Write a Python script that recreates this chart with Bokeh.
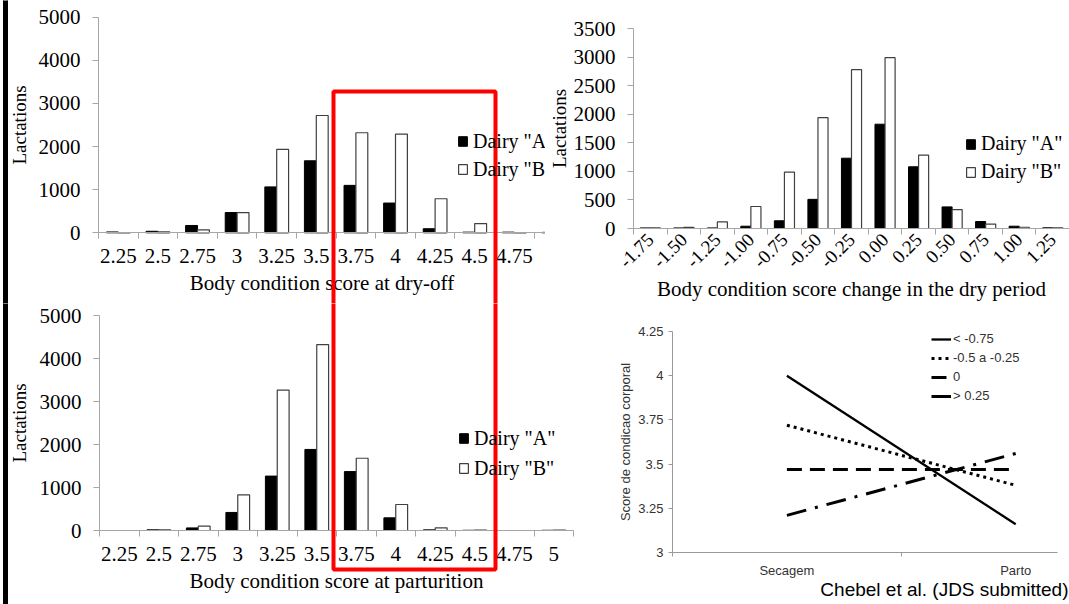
import math
from bokeh.plotting import figure
from bokeh.models import (Range1d, FixedTicker, Legend, LegendItem, BoxAnnotation,
                          Title, NumeralTickFormatter)
from bokeh.layouts import column, row
from bokeh.embed import file_html
from bokeh.resources import INLINE

# ---------------- data ----------------
bcs_cats = ["2.25", "2.5", "2.75", "3", "3.25", "3.5", "3.75", "4", "4.25", "4.5", "4.75", "5"]
dryoff_A = [20, 35, 170, 470, 1065, 1670, 1100, 690, 95, 15, 15, 10]
dryoff_B = [5, 20, 70, 470, 1935, 2720, 2320, 2290, 790, 215, 5, 5]

change_cats = ["-1.75", "-1.50", "-1.25", "-1.00", "-0.75", "-0.50", "-0.25",
               "0.00", "0.25", "0.50", "0.75", "1.00", "1.25"]
change_A = [10, 10, 10, 40, 135, 510, 1230, 1825, 1080, 378, 122, 40, 12]
change_B = [10, 20, 115, 385, 985, 1940, 2780, 2990, 1285, 332, 76, 22, 12]

partu_A = [0, 15, 60, 420, 1265, 1885, 1370, 295, 15, 5, 0, 5]
partu_B = [0, 15, 100, 830, 3265, 4325, 1680, 605, 62, 10, 0, 12]

periods = ["Secagem", "Parto"]
groups = ["< -0.75", "-0.5 a -0.25", "0", "> 0.25"]
bcs_lt_m075 = [4.00, 3.16]
bcs_m05_m025 = [3.72, 3.38]
bcs_zero = [3.47, 3.47]
bcs_gt_025 = [3.21, 3.56]

SERIF = "Liberation Serif"
SANS = "Liberation Sans"
GRAY = "#a6a6a6"


def style_axes(p, cats, centers, ymax, ystep, xlabel, rotate, tick_size,
               ylabel_standoff, xlabel_standoff, xtick_standoff):
    xa_ = p.xaxis[0]
    xa_.ticker = FixedTicker(ticks=centers, minor_ticks=list(range(len(cats) + 1)))
    xa_.major_label_overrides = {c: lab for c, lab in zip(centers, cats)}
    xa_.major_tick_out = 0
    xa_.major_tick_in = 0
    xa_.minor_tick_out = 6
    xa_.minor_tick_in = 0
    xa_.minor_tick_line_color = GRAY
    xa_.axis_line_color = GRAY
    xa_.major_label_text_font = SERIF
    xa_.major_label_text_font_size = tick_size
    xa_.major_label_text_color = "black"
    xa_.major_label_standoff = xtick_standoff
    if rotate:
        xa_.major_label_orientation = math.pi / 4
    xa_.axis_label = xlabel
    xa_.axis_label_text_font = SERIF
    xa_.axis_label_text_font_size = "21px"
    xa_.axis_label_text_font_style = "normal"
    xa_.axis_label_text_color = "black"
    xa_.axis_label_standoff = xlabel_standoff

    ya = p.yaxis[0]
    ya.ticker = FixedTicker(ticks=list(range(0, ymax + 1, ystep)))
    ya.major_tick_out = 6
    ya.major_tick_in = 0
    ya.major_tick_line_color = GRAY
    ya.minor_tick_line_color = None
    ya.axis_line_color = GRAY
    ya.major_label_text_font = SERIF
    ya.major_label_text_font_size = "21px"
    ya.major_label_text_color = "black"
    ya.major_label_standoff = 12
    ya.axis_label = "Lactations"
    ya.axis_label_text_font = SERIF
    ya.axis_label_text_font_size = "19px"
    ya.axis_label_text_font_style = "normal"
    ya.axis_label_text_color = "black"
    ya.axis_label_standoff = ylabel_standoff


def add_bars_and_legend(p, centers, a_vals, b_vals, legend_xy, legend_spacing):
    xa = [c - 0.15 for c in centers]
    xb = [c + 0.15 for c in centers]
    ra = p.vbar(x=xa, top=a_vals, width=0.3, fill_color="black", line_color="black", line_width=1)
    rb = p.vbar(x=xb, top=b_vals, width=0.3, fill_color="white", line_color="#404040", line_width=1.2)
    leg = Legend(items=[LegendItem(label='Dairy "A"', renderers=[ra]),
                        LegendItem(label='Dairy "B"', renderers=[rb])],
                 location=legend_xy)
    leg.border_line_color = None
    leg.background_fill_alpha = 0
    leg.padding = 0
    leg.margin = 0
    leg.spacing = legend_spacing
    leg.glyph_width = 11
    leg.glyph_height = 12
    leg.label_standoff = 5
    leg.label_text_font = SERIF
    leg.label_text_font_size = "20px"
    leg.label_text_color = "black"
    p.add_layout(leg)


def canvas_histogram(cats, a_vals, b_vals, ymax, ystep, width, height, frame_left,
                     zero_y, top_y, cat_w, xlabel, legend_xy, legend_spacing, ylabel_standoff=6):
    """Histogram whose frame fills the whole canvas; axes sit at fixed data locations."""
    ppu = (zero_y - top_y) / ymax
    p = figure(width=width, height=height, output_backend="svg", toolbar_location=None,
               tools="",
               x_range=Range1d(-frame_left / cat_w, (width - frame_left) / cat_w),
               y_range=Range1d(-(height - zero_y) / ppu, ymax + top_y / ppu))
    p.min_border_left = p.min_border_right = p.min_border_top = p.min_border_bottom = 0
    p.outline_line_color = None
    p.grid.visible = False
    centers = [i + 0.5 for i in range(len(cats))]
    add_bars_and_legend(p, centers, a_vals, b_vals, legend_xy, legend_spacing)
    style_axes(p, cats, centers, ymax, ystep, xlabel, False, "21px", ylabel_standoff, 5, 10)
    p.xaxis[0].fixed_location = 0
    p.xaxis[0].bounds = (0, len(cats))
    p.yaxis[0].fixed_location = 0
    p.yaxis[0].bounds = (0, ymax)
    return p


def canvas_box(p, left, right, top, bottom, **style):
    p.add_layout(BoxAnnotation(left=left, right=right, top=top, bottom=bottom,
                               left_units="canvas", right_units="canvas",
                               top_units="canvas", bottom_units="canvas",
                               level="overlay", **style))


RED = dict(fill_alpha=0, line_color="#ff0000", line_alpha=1, line_width=4)
BLACK_EDGE = dict(fill_color="black", fill_alpha=1, line_color="black", line_alpha=1, line_width=1)

# top-left: BCS at dry-off
p1 = canvas_histogram(bcs_cats, dryoff_A, dryoff_B, 5000, 1000, 545, 303, 98, 232.3, 16.7, 39.6,
                      "Body condition score at dry-off", (457, 122.5), 5)
canvas_box(p1, 333, 495, 91, 2000, **RED)
canvas_box(p1, 3, 7, -20, 2000, **BLACK_EDGE)

# top-right: BCS change in dry period (regular frame)
p2 = figure(width=524, height=303, output_backend="svg", toolbar_location=None, tools="",
            x_range=Range1d(0, 13), y_range=Range1d(0, 3500))
p2.min_border_left, p2.min_border_right, p2.min_border_top, p2.min_border_bottom = 88, 0, 28, 75
p2.outline_line_color = None
p2.grid.visible = False
centers2 = [i + 0.5 for i in range(len(change_cats))]
add_bars_and_legend(p2, centers2, change_A, change_B, (332, 45), 5)
style_axes(p2, change_cats, centers2, 3500, 500, "Body condition score change in the dry period",
           True, "19px", 1, 0, 2)

# bottom-left: BCS at parturition
p3 = canvas_histogram(bcs_cats, partu_A, partu_B, 5000, 1000, 600, 301, 99, 227, 12, 39.5,
                      "Body condition score at parturition", (458, 124.5), 7, ylabel_standoff=7)
canvas_box(p3, 333, 495, -50, 266, **RED)
canvas_box(p3, 3, 7, -20, 2000, **BLACK_EDGE)

# bottom-right: line chart
p4 = figure(width=469, height=301, output_backend="svg", toolbar_location=None, tools="",
            x_range=Range1d(0, 385 / 228.8), y_range=Range1d(3, 4.25))
p4.min_border_left, p4.min_border_right, p4.min_border_top, p4.min_border_bottom = 72, 12, 28, 52
p4.outline_line_color = None
p4.grid.visible = False
xs = [0.5, 1.5]
styles = [
    (bcs_lt_m075, None, 2.3),
    (bcs_m05_m025, "3 4", 3),
    (bcs_zero, "15 8", 3),
    (bcs_gt_025, "20 9 3 9", 3),
]
items = []
for name, (vals, dash, lw) in zip(groups, styles):
    kw = {} if dash is None else {"line_dash": dash}
    r = p4.line(x=xs, y=vals, line_color="black", line_width=lw, **kw)
    items.append(LegendItem(label=name, renderers=[r]))

xa4 = p4.xaxis[0]
xa4.ticker = FixedTicker(ticks=xs, minor_ticks=[0, 1, 2])
xa4.major_label_overrides = {0.5: periods[0], 1.5: periods[1]}
xa4.major_tick_out = 0
xa4.major_tick_in = 0
xa4.minor_tick_out = 4
xa4.minor_tick_in = 0
xa4.minor_tick_line_color = "#999999"
xa4.axis_line_color = "#999999"
xa4.major_label_text_font = SANS
xa4.major_label_text_font_size = "13px"
xa4.major_label_text_color = "#333333"
xa4.major_label_standoff = 6

ya4 = p4.yaxis[0]
ya4.ticker = FixedTicker(ticks=[3, 3.25, 3.5, 3.75, 4, 4.25])
ya4.formatter = NumeralTickFormatter(format="0.[00]")
ya4.major_tick_out = 4
ya4.major_tick_in = 0
ya4.major_tick_line_color = "#999999"
ya4.minor_tick_line_color = None
ya4.axis_line_color = "#999999"
ya4.major_label_text_font = SANS
ya4.major_label_text_font_size = "13px"
ya4.major_label_text_color = "#333333"
ya4.major_label_standoff = 5
ya4.axis_label = "Score de condicao corporal"
ya4.axis_label_text_font = SANS
ya4.axis_label_text_font_size = "13px"
ya4.axis_label_text_font_style = "normal"
ya4.axis_label_text_color = "#333333"
ya4.axis_label_standoff = 2

leg4 = Legend(items=items, location=(259, 149))
leg4.border_line_color = None
leg4.background_fill_alpha = 0
leg4.padding = 0
leg4.margin = 0
leg4.spacing = 4
leg4.glyph_width = 20
leg4.glyph_height = 12
leg4.label_height = 15
leg4.label_standoff = 2
leg4.label_text_font = SANS
leg4.label_text_font_size = "13px"
leg4.label_text_color = "#333333"
p4.add_layout(leg4)

p4.add_layout(Title(text="Chebel et al. (JDS submitted)", align="right", text_font=SANS,
                    text_font_size="19px", text_font_style="normal", text_color="black",
                    standoff=-8, offset=-11), "below")

layout = column(row(column(p1), column(p2)), row(column(p3), column(p4)))
open("out.html", "w").write(file_html(layout, INLINE))
